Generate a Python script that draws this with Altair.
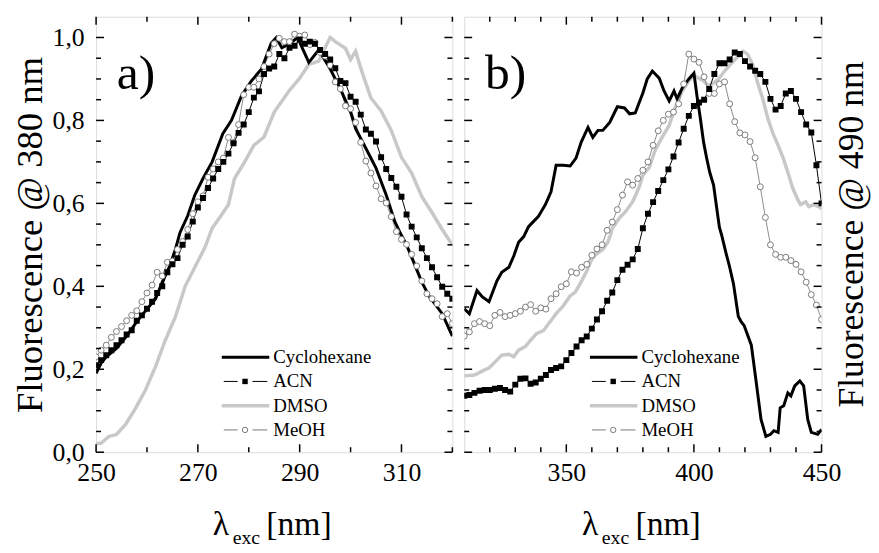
import altair as alt
import pandas as pd

FONT = "Liberation Serif"

# ---------------- Panel a) data (excitation, emission @ 380 nm) ----------------
a_cyc_x = [250, 251, 252, 254, 256, 258, 260, 261.7, 263, 264.5, 265.6, 266.5, 268, 269.4, 271, 272.8,
           274.9, 276.6, 278.6, 280.5, 282.5, 284.4, 285.4, 286.5, 288, 289.6, 290.5, 291.8, 293.75, 296,
           298, 300, 301, 303, 305, 307, 308.7, 309.7, 311, 312.8, 314, 315.5, 318, 320]
a_cyc_y = [0.19, 0.215, 0.23, 0.25, 0.28, 0.315, 0.345, 0.37, 0.41, 0.45, 0.49, 0.53, 0.57, 0.62, 0.66, 0.70,
           0.768, 0.80, 0.86, 0.895, 0.924, 0.986, 1.0, 0.975, 0.985, 1.0, 0.975, 0.94, 0.97, 0.924,
           0.876, 0.82, 0.78, 0.733, 0.685, 0.62, 0.556, 0.53, 0.50, 0.446, 0.41, 0.375, 0.334, 0.28]

a_dmso_x = [250, 251, 252.5, 254, 255.8, 257.8, 259.7, 261.7, 263.6, 265.6, 267.5, 269.4, 271.4, 272.8,
            274.7, 276, 277.2, 279.2, 281, 283, 285, 287.9, 289.9, 291.8, 293.75, 295.3, 296, 297, 299, 300,
            301, 302, 304, 306, 308, 310, 312, 314, 316, 318, 320]
a_dmso_y = [0.02, 0.022, 0.038, 0.043, 0.067, 0.107, 0.15, 0.207, 0.27, 0.327, 0.40, 0.446, 0.494, 0.54,
            0.573, 0.597, 0.66, 0.70, 0.74, 0.76, 0.82, 0.871, 0.90, 0.935, 0.943, 0.983, 1.0, 0.99, 0.974, 0.947,
            0.967, 0.926, 0.854, 0.823, 0.776, 0.711, 0.673, 0.616, 0.578, 0.537, 0.50]

a_grid = list(range(250, 321))
a_acn_y = [0.21, 0.222, 0.234, 0.246, 0.258, 0.27, 0.284, 0.294, 0.317, 0.33,
           0.346, 0.363, 0.384, 0.40, 0.434, 0.453, 0.468, 0.50, 0.52, 0.556,
           0.59, 0.613, 0.637, 0.66, 0.683, 0.70, 0.72, 0.745, 0.77, 0.79,
           0.82, 0.855, 0.87, 0.912, 0.925, 0.93, 0.96, 0.95, 0.975, 0.98,
           0.995, 0.985, 0.99, 0.985, 0.97, 0.96, 0.947, 0.926, 0.895, 0.89,
           0.857, 0.845, 0.814, 0.778, 0.768, 0.749, 0.711, 0.683, 0.661, 0.64,
           0.616, 0.573, 0.544, 0.518, 0.492, 0.468, 0.446, 0.422, 0.399, 0.382,
           0.37]
a_meoh_y = [0.23, 0.246, 0.258, 0.277, 0.291, 0.303, 0.317, 0.33, 0.341, 0.363,
            0.384, 0.403, 0.434, 0.425, 0.458, 0.461, 0.489, 0.508, 0.537, 0.575,
            0.604, 0.618, 0.663, 0.683, 0.70, 0.709, 0.759, 0.747, 0.79, 0.862,
            0.88, 0.88, 0.90, 0.93, 0.96, 0.985, 0.998, 0.99, 0.99, 1.008,
            1.003, 1.006, 0.983, 0.988, 0.964, 0.955, 0.933, 0.893, 0.876, 0.835,
            0.828, 0.795, 0.747, 0.702, 0.673, 0.642, 0.611, 0.601, 0.568, 0.532,
            0.513, 0.501, 0.477, 0.449, 0.413, 0.382, 0.37, 0.358, 0.327, 0.334,
            0.31]

# ---------------- Panel b) data (excitation, emission @ 490 nm) ----------------
b_cyc_x = [310, 312, 315, 317, 319.7, 322.8, 324.7, 327.5, 329.4, 331.3, 333.3, 335.2, 339, 341.8, 344, 346,
           348.8, 351.5, 353.8, 355.8, 358.5, 360.4, 362.4, 364.3, 367, 370, 372.8, 374.8, 377, 380, 381.7,
           383.7, 386.4, 388.3, 390.3, 392.2, 393.4, 395.4, 398, 400, 401.2, 402.4, 403.8, 405, 406.2, 407.7,
           408.9, 410, 410.8, 412.7, 413.9, 415.5, 417.4, 418.5, 419.7, 422.5, 424.3, 426.3, 428.2, 430,
           431.3, 433, 433.8, 435.2, 436.8, 438, 439.5, 441.5, 443, 444.6, 446, 448.5, 450]
b_cyc_y = [0.346, 0.334, 0.39, 0.375, 0.363, 0.413, 0.434, 0.446, 0.473, 0.506, 0.52, 0.544, 0.568, 0.597,
           0.628, 0.692, 0.692, 0.69, 0.709, 0.747, 0.783, 0.759, 0.776, 0.776, 0.795, 0.833, 0.83, 0.816,
           0.818, 0.866, 0.90, 0.919, 0.902, 0.871, 0.847, 0.871, 0.852, 0.878, 0.90, 0.914, 0.859, 0.81,
           0.747, 0.709, 0.675, 0.644, 0.59, 0.542, 0.525, 0.477, 0.449, 0.406, 0.327, 0.315, 0.305, 0.258,
           0.174, 0.079, 0.038, 0.043, 0.052, 0.048, 0.107, 0.112, 0.143, 0.136, 0.16, 0.172, 0.16, 0.079,
           0.048, 0.043, 0.055]

b_dmso_x = [310, 314, 317.8, 319.7, 322.8, 324.7, 327.5, 329.4, 331.3, 334, 336, 338.3, 341, 343.7, 346,
            348.8, 351.5, 353.5, 355.4, 358, 360, 361.6, 364.3, 366.2, 367.4, 368, 371, 373.2, 376, 378.6,
            380, 382.5, 384.8, 387.5, 390.3, 392.6, 395.4, 398, 400, 401.8, 403.8, 405.7, 407.7, 409.7, 412,
            414.7, 417.4, 419.3, 421, 423, 425, 427, 429, 431, 433, 435, 436.8, 438.7, 440.7, 441.8, 443.8,
            445, 447, 449.6, 450]
b_dmso_y = [0.184, 0.186, 0.198, 0.203, 0.222, 0.234, 0.236, 0.23, 0.246, 0.255, 0.27, 0.286, 0.293, 0.315,
            0.334, 0.353, 0.377, 0.386, 0.406, 0.437, 0.465, 0.477, 0.489, 0.506, 0.525, 0.54, 0.566, 0.58,
            0.604, 0.64, 0.668, 0.687, 0.728, 0.759, 0.788, 0.83, 0.871, 0.895, 0.909, 0.902, 0.895, 0.883,
            0.89, 0.90, 0.919, 0.938, 0.955, 0.967, 0.96, 0.935, 0.89, 0.852, 0.804, 0.768, 0.74, 0.709,
            0.675, 0.637, 0.609, 0.597, 0.604, 0.592, 0.597, 0.59, 0.585]

b_grid = list(range(310, 451, 2))
b_acn_y = [0.136, 0.138, 0.143, 0.148, 0.15, 0.15, 0.153, 0.155, 0.15, 0.146,
           0.163, 0.177, 0.178, 0.165, 0.168, 0.177, 0.186, 0.198, 0.203, 0.207,
           0.222, 0.239, 0.255, 0.27, 0.279, 0.298, 0.32, 0.34, 0.365, 0.385,
           0.415, 0.44, 0.452, 0.465, 0.49, 0.54, 0.575, 0.603, 0.63, 0.656,
           0.682, 0.713, 0.747, 0.78, 0.811, 0.835, 0.843, 0.85, 0.876, 0.912,
           0.938, 0.938, 0.947, 0.964, 0.96, 0.943, 0.93, 0.92, 0.912, 0.893,
           0.852, 0.826, 0.835, 0.865, 0.871, 0.852, 0.82, 0.79, 0.771, 0.692,
           0.60]
b_meoh_y = [0.28, 0.29, 0.31, 0.315, 0.31, 0.305, 0.33, 0.337, 0.327, 0.33,
            0.334, 0.34, 0.35, 0.356, 0.34, 0.348, 0.345, 0.37, 0.382, 0.399,
            0.406, 0.435, 0.432, 0.446, 0.453, 0.475, 0.49, 0.50, 0.535, 0.555,
            0.585, 0.62, 0.652, 0.644, 0.66, 0.68, 0.70, 0.74, 0.775, 0.80,
            0.815, 0.82, 0.84, 0.888, 0.96, 0.948, 0.94, 0.905, 0.865, 0.865,
            0.888, 0.893, 0.84, 0.797, 0.77, 0.765, 0.749, 0.71, 0.64, 0.566,
            0.50, 0.477, 0.47, 0.47, 0.462, 0.453, 0.435, 0.41, 0.38, 0.355,
            0.32]

# ---------------- axes / labels ----------------
a_x_major = [250, 270, 290, 310]
a_x_minor = [260, 280, 300, 320]
b_x_major = [350, 400, 450]
b_x_minor = [320, 330, 340, 360, 370, 380, 390, 410, 420, 430, 440]
y_major = [0.0, 0.2, 0.4, 0.6, 0.8, 1.0]
y_minor = [0.05, 0.1, 0.15, 0.25, 0.3, 0.35, 0.45, 0.5, 0.55, 0.65, 0.7, 0.75, 0.85, 0.9, 0.95]
legend_labels = ["Cyclohexane", "ACN", "DMSO", "MeOH"]
y_title_a = "Fluorescence @ 380 nm"
y_title_b = "Fluorescence @ 490 nm"

Y_DOM = [0, 1.05]
H = 440
BLACK = "black"
GRAY_LINE = "#c8c8c8"
GRAY_SYM = "#7a7a7a"
SYM_SIZE = 36


def df(xs, ys):
    return pd.DataFrame({"x": xs, "y": ys})


def one(t):
    return pd.DataFrame({"t": [t]})


def legend_layers():
    rows = [344, 368.5, 393, 417.5]
    out = []
    for lab, ry in zip(legend_labels, rows):
        d = one(lab)
        if lab == "Cyclohexane":
            out.append(alt.Chart(d).mark_rule(color=BLACK, strokeWidth=3).encode(
                x=alt.value(127), x2=alt.value(175), y=alt.value(ry)))
        elif lab == "DMSO":
            out.append(alt.Chart(d).mark_rule(color=GRAY_LINE, strokeWidth=3.5).encode(
                x=alt.value(127), x2=alt.value(175), y=alt.value(ry)))
        else:
            col = BLACK if lab == "ACN" else GRAY_SYM
            for x0, x1 in [(129, 143), (158, 173)]:
                out.append(alt.Chart(d).mark_rule(color=col, strokeWidth=1).encode(
                    x=alt.value(x0), x2=alt.value(x1), y=alt.value(ry)))
            if lab == "ACN":
                out.append(alt.Chart(d).mark_square(size=30, color=BLACK, opacity=1).encode(
                    x=alt.value(150.5), y=alt.value(ry)))
            else:
                out.append(alt.Chart(d).mark_point(shape="circle", size=30, filled=True, fill="white",
                                                   stroke=GRAY_SYM, strokeWidth=1, opacity=1).encode(
                    x=alt.value(150.5), y=alt.value(ry)))
        out.append(alt.Chart(d).mark_text(font=FONT, fontSize=19, align="left", baseline="middle",
                                          color=BLACK).encode(
            x=alt.value(179), y=alt.value(ry), text="t:N"))
    return out


def tick_layers(X, Y, W, xmaj, xmin):
    out = []
    for vals, L in [(xmaj, 8), (xmin, 5)]:
        d = pd.DataFrame({"v": vals})
        base = alt.Chart(d).mark_rule(color=BLACK, strokeWidth=1.5)
        out.append(base.encode(x=X("v"), y=alt.value(H), y2=alt.value(H - L)))
        out.append(base.encode(x=X("v"), y=alt.value(0), y2=alt.value(L)))
    for vals, L in [(y_major, 8), (y_minor, 5)]:
        d = pd.DataFrame({"v": vals})
        base = alt.Chart(d).mark_rule(color=BLACK, strokeWidth=1.5)
        out.append(base.encode(y=Y("v"), x=alt.value(0), x2=alt.value(L)))
        out.append(base.encode(y=Y("v"), x=alt.value(W), x2=alt.value(W - L)))
    return out


def xtitle_layers(x0):
    out = []
    out.append(alt.Chart(one("λ")).mark_text(font=FONT, fontSize=34, align="left", baseline="alphabetic",
                                             color=BLACK).encode(x=alt.value(x0), y=alt.value(524), text="t:N"))
    out.append(alt.Chart(one("exc")).mark_text(font=FONT, fontSize=20, align="left", baseline="alphabetic",
                                               color=BLACK).encode(x=alt.value(x0 + 20), y=alt.value(533), text="t:N"))
    out.append(alt.Chart(one("[nm]")).mark_text(font=FONT, fontSize=34, align="left", baseline="alphabetic",
                                                color=BLACK).encode(x=alt.value(x0 + 54), y=alt.value(524), text="t:N"))
    return out


def panel(xdom, W, cyc, acn, dmso, meoh, xmaj, xmin, label, yaxis, right_title=None, xt=118):
    xs = alt.Scale(domain=xdom, nice=False, zero=False)
    ys = alt.Scale(domain=Y_DOM, nice=False, zero=False)
    xaxis = alt.Axis(values=xmaj, ticks=False, domain=False, grid=False, labelFont=FONT, labelFontSize=26,
                     labelColor=BLACK, labelPadding=8, labelFlush=False, labelOverlap=False, title=None)

    def X(f="x"):
        return alt.X(f"{f}:Q", scale=xs, axis=xaxis)

    def Y(f="y"):
        return alt.Y(f"{f}:Q", scale=ys, axis=yaxis)

    layers = [
        alt.Chart(dmso).mark_line(color=GRAY_LINE, strokeWidth=3.5, clip=True).encode(x=X(), y=Y()),
        alt.Chart(meoh).mark_line(color="#8c8c8c", strokeWidth=1, clip=True).encode(x=X(), y=Y()),
        alt.Chart(acn).mark_line(color=BLACK, strokeWidth=1, clip=True).encode(x=X(), y=Y()),
        alt.Chart(cyc).mark_line(color=BLACK, strokeWidth=3, clip=True).encode(x=X(), y=Y()),
        alt.Chart(meoh).mark_point(shape="circle", size=SYM_SIZE, filled=True, fill="white", stroke=GRAY_SYM,
                                   strokeWidth=1, opacity=1, clip=True).encode(x=X(), y=Y()),
        alt.Chart(acn).mark_square(size=SYM_SIZE, color=BLACK, opacity=1, clip=True).encode(x=X(), y=Y()),
    ]
    layers += tick_layers(X, Y, W, xmaj, xmin)
    layers += legend_layers()
    layers.append(alt.Chart(one(label)).mark_text(font=FONT, fontSize=50, align="left", baseline="alphabetic",
                                                  color=BLACK).encode(x=alt.value(21), y=alt.value(73), text="t:N"))
    layers += xtitle_layers(xt)
    if right_title:
        layers.append(alt.Chart(one(right_title)).mark_text(font=FONT, fontSize=36, angle=270, align="center",
                                                            baseline="top", color=BLACK).encode(
            x=alt.value(W + 14), y=alt.value(H / 2), text="t:N"))
    return alt.layer(*layers).properties(width=W, height=H)


yaxis_a = alt.Axis(values=y_major, labelExpr="replace(format(datum.value, '.1f'), '.', ',')", ticks=False,
                   domain=False, grid=False, labelFont=FONT, labelFontSize=26, labelColor=BLACK, labelPadding=12,
                   labelFlush=False, labelOverlap=False, title=y_title_a, titleFont=FONT, titleFontSize=37,
                   titleFontWeight="normal", titleColor=BLACK, titlePadding=3)

pa = panel([250, 320], 360, df(a_cyc_x, a_cyc_y), df(a_grid, a_acn_y), df(a_dmso_x, a_dmso_y),
           df(a_grid, a_meoh_y), a_x_major, a_x_minor, "a)", yaxis_a, xt=118)
pb = panel([310, 450], 361, df(b_cyc_x, b_cyc_y), df(b_grid, b_acn_y), df(b_dmso_x, b_dmso_y),
           df(b_grid, b_meoh_y), b_x_major, b_x_minor, "b)", None, right_title=y_title_b, xt=119)

chart = alt.hconcat(pa, pb, spacing=8).properties(
    padding={"left": 3, "top": 4, "right": 0, "bottom": 0}
).configure_view(stroke="black", strokeWidth=2).configure(background="white")

chart.save("out.html", embed_options={"renderer": "svg", "actions": False})
